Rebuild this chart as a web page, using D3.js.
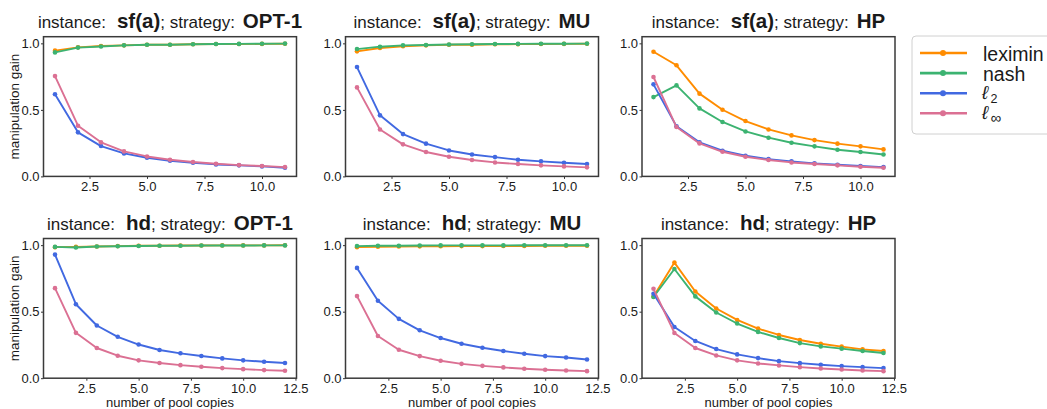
<!DOCTYPE html>
<html><head><meta charset="utf-8">
<script src="https://cdn.jsdelivr.net/npm/d3@7"></script>
<style>
body{margin:0;background:#fff}
svg{display:block}
text{font-family:"Liberation Sans",Arial,sans-serif;fill:#1a1a1a}
</style>
</head><body>
<svg id="chart" width="1047" height="409"></svg>
<script>
// ---------- data ----------
const seriesNames = ["leximin", "nash", "l2", "linf"];
const seriesColors = ["#ff8c00", "#3cb371", "#4169e1", "#db7093"];
const copiesSf = [1, 2, 3, 4, 5, 6, 7, 8, 9, 10, 11];
const copiesHd = [1, 2, 3, 4, 5, 6, 7, 8, 9, 10, 11, 12];
const xTicksSf = [2.5, 5.0, 7.5, 10.0];
const xTicksHd = [2.5, 5.0, 7.5, 10.0, 12.5];
const yTicks = [0.0, 0.5, 1.0];

// sf(a), OPT-1
const sfOpt1Leximin = [0.945, 0.970, 0.980, 0.985, 0.990, 0.990, 0.993, 0.995, 0.995, 0.996, 0.997];
const sfOpt1Nash    = [0.932, 0.968, 0.976, 0.985, 0.989, 0.990, 0.993, 0.995, 0.996, 0.997, 0.998];
const sfOpt1L2      = [0.617, 0.331, 0.228, 0.173, 0.140, 0.118, 0.103, 0.090, 0.083, 0.075, 0.065];
const sfOpt1Linf    = [0.754, 0.381, 0.256, 0.188, 0.150, 0.125, 0.108, 0.095, 0.085, 0.078, 0.070];
// sf(a), MU
const sfMuLeximin = [0.940, 0.965, 0.978, 0.985, 0.989, 0.990, 0.993, 0.994, 0.995, 0.996, 0.997];
const sfMuNash    = [0.957, 0.975, 0.985, 0.988, 0.991, 0.993, 0.995, 0.996, 0.997, 0.997, 0.998];
const sfMuL2      = [0.822, 0.459, 0.318, 0.246, 0.195, 0.165, 0.145, 0.125, 0.113, 0.103, 0.093];
const sfMuLinf    = [0.669, 0.353, 0.241, 0.183, 0.148, 0.123, 0.105, 0.093, 0.083, 0.075, 0.068];
// sf(a), HP
const sfHpLeximin = [0.937, 0.835, 0.622, 0.501, 0.416, 0.353, 0.308, 0.273, 0.246, 0.226, 0.203];
const sfHpNash    = [0.596, 0.684, 0.511, 0.409, 0.338, 0.291, 0.253, 0.226, 0.200, 0.183, 0.165];
const sfHpL2      = [0.692, 0.376, 0.256, 0.193, 0.155, 0.130, 0.113, 0.098, 0.088, 0.078, 0.070];
const sfHpLinf    = [0.747, 0.371, 0.248, 0.185, 0.148, 0.123, 0.105, 0.093, 0.083, 0.073, 0.065];
// hd, OPT-1
const hdOpt1Leximin = [0.985, 0.987, 0.990, 0.993, 0.995, 0.996, 0.997, 0.997, 0.998, 0.998, 0.998, 0.999];
const hdOpt1Nash    = [0.987, 0.982, 0.990, 0.992, 0.994, 0.995, 0.996, 0.997, 0.997, 0.997, 0.998, 0.998];
const hdOpt1L2      = [0.929, 0.556, 0.396, 0.311, 0.253, 0.212, 0.187, 0.167, 0.149, 0.134, 0.124, 0.114];
const hdOpt1Linf    = [0.677, 0.341, 0.227, 0.169, 0.134, 0.114, 0.098, 0.086, 0.076, 0.068, 0.061, 0.056];
// hd, MU
const hdMuLeximin = [0.985, 0.988, 0.990, 0.991, 0.992, 0.993, 0.993, 0.994, 0.994, 0.995, 0.995, 0.995];
const hdMuNash    = [0.993, 0.995, 0.996, 0.997, 0.998, 0.998, 0.998, 0.998, 0.999, 0.999, 0.999, 0.999];
const hdMuL2      = [0.829, 0.582, 0.446, 0.360, 0.302, 0.259, 0.229, 0.204, 0.184, 0.166, 0.156, 0.141];
const hdMuLinf    = [0.617, 0.317, 0.214, 0.166, 0.131, 0.108, 0.093, 0.081, 0.071, 0.063, 0.058, 0.053];
// hd, HP
const hdHpLeximin = [0.615, 0.869, 0.652, 0.524, 0.438, 0.373, 0.325, 0.287, 0.259, 0.237, 0.217, 0.204];
const hdHpNash    = [0.610, 0.821, 0.615, 0.494, 0.411, 0.348, 0.302, 0.264, 0.239, 0.222, 0.204, 0.189];
const hdHpL2      = [0.635, 0.385, 0.280, 0.219, 0.179, 0.151, 0.128, 0.113, 0.101, 0.091, 0.083, 0.076];
const hdHpLinf    = [0.672, 0.340, 0.227, 0.171, 0.134, 0.111, 0.096, 0.083, 0.073, 0.065, 0.058, 0.053];

const panels = [
  {inst: "sf(a)", strat: "OPT-1", row: 0, col: 0, x: copiesSf, ticks: xTicksSf, ys: [sfOpt1Leximin, sfOpt1Nash, sfOpt1L2, sfOpt1Linf]},
  {inst: "sf(a)", strat: "MU",    row: 0, col: 1, x: copiesSf, ticks: xTicksSf, ys: [sfMuLeximin, sfMuNash, sfMuL2, sfMuLinf]},
  {inst: "sf(a)", strat: "HP",    row: 0, col: 2, x: copiesSf, ticks: xTicksSf, ys: [sfHpLeximin, sfHpNash, sfHpL2, sfHpLinf]},
  {inst: "hd",    strat: "OPT-1", row: 1, col: 0, x: copiesHd, ticks: xTicksHd, ys: [hdOpt1Leximin, hdOpt1Nash, hdOpt1L2, hdOpt1Linf]},
  {inst: "hd",    strat: "MU",    row: 1, col: 1, x: copiesHd, ticks: xTicksHd, ys: [hdMuLeximin, hdMuNash, hdMuL2, hdMuLinf]},
  {inst: "hd",    strat: "HP",    row: 1, col: 2, x: copiesHd, ticks: xTicksHd, ys: [hdHpLeximin, hdHpNash, hdHpL2, hdHpLinf]}
];

// ---------- layout ----------
const colX = [43.5, 345.5, 642];
const rowY = [36.7, 238.5];
const pw = 253, ph = 139.7;

const svg = d3.select("#chart");

panels.forEach(p => {
  const x0 = colX[p.col], y0 = rowY[p.row];
  const ext = d3.extent(p.x), pad = (ext[1] - ext[0]) * 0.05;
  const xs = d3.scaleLinear().domain([ext[0] - pad, ext[1] + pad]).range([x0, x0 + pw]);
  const ysc = d3.scaleLinear().domain([0, 1.05]).range([y0 + ph, y0]);

  const g = svg.append("g");

  // axes
  const xa = g.append("g").attr("transform", `translate(0,${y0 + ph})`)
    .call(d3.axisBottom(xs).tickValues(p.ticks).tickFormat(d3.format(".1f")).tickSize(2.5).tickPadding(3));
  const ya = g.append("g").attr("transform", `translate(${x0},0)`)
    .call(d3.axisLeft(ysc).tickValues(yTicks).tickFormat(d3.format(".1f")).tickSize(2.5).tickPadding(1.5));
  [xa, ya].forEach(a => {
    a.select(".domain").remove();
    a.selectAll("line").attr("stroke", "#333");
    a.selectAll("text").attr("font-size", 13).attr("fill", "#1a1a1a")
      .attr("font-family", '"Liberation Sans", Arial, sans-serif');
  });

  // series
  const line = d3.line().x((d, i) => xs(p.x[i])).y(d => ysc(d));
  p.ys.forEach((vals, si) => {
    g.append("path").datum(vals).attr("d", line)
      .attr("fill", "none").attr("stroke", seriesColors[si]).attr("stroke-width", 1.9)
      .attr("stroke-linejoin", "round");
    g.selectAll(null).data(vals).enter().append("circle")
      .attr("cx", (d, i) => xs(p.x[i])).attr("cy", d => ysc(d)).attr("r", 2.3)
      .attr("fill", seriesColors[si]);
  });

  // frame
  g.append("rect").attr("x", x0).attr("y", y0).attr("width", pw).attr("height", ph)
    .attr("fill", "none").attr("stroke", "#3a3a3a").attr("stroke-width", 1.5);

  // title
  const t = g.append("text").attr("x", x0 + pw / 2).attr("y", y0 - 8.5)
    .attr("text-anchor", "middle").attr("font-size", 17);
  t.append("tspan").text("instance:");
  t.append("tspan").attr("dx", 11).attr("font-weight", "bold").attr("font-size", 20.5).text(p.inst);
  t.append("tspan").text("; strategy:");
  t.append("tspan").attr("dx", 8).attr("font-weight", "bold").attr("font-size", 20.5).text(p.strat);

  if (p.col === 0) {
    g.append("text").attr("transform", `translate(14,${y0 + ph / 2}) rotate(-90)`)
      .attr("text-anchor", "middle").attr("dy", "0.35em").attr("font-size", 13.5).text("manipulation gain");
  }
  if (p.row === 1) {
    g.append("text").attr("x", x0 + pw / 2).attr("y", 406.5)
      .attr("text-anchor", "middle").attr("font-size", 13).text("number of pool copies");
  }
});

// ---------- legend ----------
const lg = svg.append("g");
lg.append("rect").attr("x", 912).attr("y", 36).attr("width", 150).attr("height", 98)
  .attr("rx", 4).attr("fill", "#fff").attr("stroke", "#d0d0d0").attr("stroke-width", 1);
const rowsY = d3.scaleLinear().domain([0, 3]).range([53, 113.3]);
seriesNames.forEach((name, i) => {
  const y = rowsY(i);
  lg.append("line").attr("x1", 920).attr("x2", 967).attr("y1", y).attr("y2", y)
    .attr("stroke", seriesColors[i]).attr("stroke-width", 2.6);
  lg.append("circle").attr("cx", 943).attr("cy", y).attr("r", 3).attr("fill", seriesColors[i]);
  if (name === "l2" || name === "linf") {
    lg.append("text").attr("x", 982).attr("y", y + 6).attr("font-size", 19)
      .attr("font-family", '"DejaVu Serif", serif').attr("font-style", "italic").text("ℓ");
    lg.append("text").attr("x", 990.5).attr("y", y + 9.5).attr("font-size", name === "l2" ? 12.5 : 15)
      .attr("font-family", '"DejaVu Serif", serif').text(name === "l2" ? "2" : "∞");
  } else {
    lg.append("text").attr("x", 983).attr("y", y + 7.5).attr("font-size", 19.5).text(name);
  }
});
</script>
</body></html>
